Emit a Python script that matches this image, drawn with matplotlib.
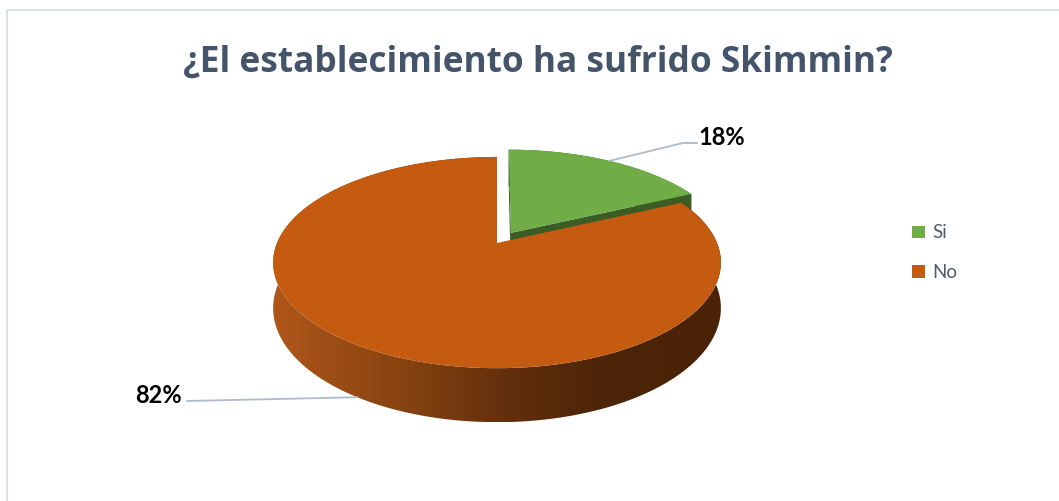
import numpy as np
import matplotlib.pyplot as plt
from matplotlib.patches import Polygon, Rectangle, Patch
from matplotlib.colors import LinearSegmentedColormap

titulo = '¿El establecimiento ha sufrido Skimmin?'
categorias = ['Si', 'No']
porcentajes = [18, 82]
colores_cara = ['#70AD47', '#C55A11']
color_lado_si = '#3A5C25'
explosion = [0.12, 0.0]

# geometria del pastel 3D en pixeles (y hacia abajo)
CX, CY = 497, 243
R, RK = 220, 102
PERSP = 5.4
DEPTH = 44
N = 240

plt.rcParams['font.family'] = ['Lato', 'DejaVu Sans']


def proj_uv(u, v, h=0.0):
    s = PERSP / (PERSP + v)
    return CX + R * u * s, CY - RK * v * s + DEPTH * h * s


def proj(theta, h=0.0, off=(0.0, 0.0)):
    return proj_uv(np.cos(theta) + off[0], np.sin(theta) + off[1], h)


def arco(t0, t1, h, off):
    th = np.linspace(t0, t1, N)
    x, y = proj(th, h, off)
    return np.column_stack([x, y])


fig = plt.figure(figsize=(10.59, 5.01), dpi=100)
ax = fig.add_axes([0, 0, 1, 1])
ax.set_xlim(0, 1059)
ax.set_ylim(501, 0)
ax.axis('off')

# marco del grafico
ax.add_patch(Rectangle((7, 10), 1070, 520, fill=False, edgecolor='#D9DEE7', lw=1.3))

# angulos de cada porcion, empezando arriba y en sentido horario
total = sum(porcentajes)
acum = np.cumsum([0] + porcentajes)
angulos = []
for i in range(len(porcentajes)):
    a_ini = np.radians(90 - acum[i + 1] / total * 360)
    a_fin = np.radians(90 - acum[i] / total * 360)
    angulos.append((a_ini, a_fin))

# porcion "Si" (separada del resto)
t0, t1 = angulos[0]
tm = (t0 + t1) / 2
off_si = (explosion[0] * np.cos(tm), explosion[0] * np.sin(tm))
centro_top = proj_uv(off_si[0], off_si[1], 0)
centro_bot = proj_uv(off_si[0], off_si[1], 1)

lado = np.vstack([arco(t0, t1, 0, off_si), arco(t1, t0, 1, off_si)])
ax.add_patch(Polygon(lado, closed=True, facecolor=color_lado_si, edgecolor='none', zorder=1))
for t in (t0, t1):
    ex_t = proj(t, 0, off_si)
    ex_b = proj(t, 1, off_si)
    cara = [centro_top, ex_t, ex_b, centro_bot]
    ax.add_patch(Polygon(cara, closed=True, facecolor=color_lado_si, edgecolor='none', zorder=1))
tapa = np.vstack([[centro_top], arco(t0, t1, 0, off_si)])
ax.add_patch(Polygon(tapa, closed=True, facecolor=colores_cara[0], edgecolor='none', zorder=2))

# porcion "No": lateral con degradado y tapa encima
n0, n1 = angulos[1]
lado_no = np.vstack([arco(n0, n1, 0, (0, 0)), arco(n1, n0, 1, (0, 0))])
lado_patch = Polygon(lado_no, closed=True, transform=ax.transData)
cmap_lado = LinearSegmentedColormap.from_list('lado_no', [
    (0.0, '#B0561A'), (0.33, '#80400F'), (0.55, '#5F2D0C'),
    (0.75, '#4C2407'), (1.0, '#4A2306')])
x0, x1 = lado_no[:, 0].min(), lado_no[:, 0].max()
y0, y1 = lado_no[:, 1].min(), lado_no[:, 1].max()
im = ax.imshow(np.linspace(0, 1, 256).reshape(1, -1), cmap=cmap_lado,
               extent=(x0, x1, y1, y0), aspect='auto', interpolation='bilinear', zorder=3)
im.set_clip_path(lado_patch)
tapa_no = np.vstack([[proj_uv(0, 0, 0)], arco(n0, n1, 0, (0, 0))])
ax.add_patch(Polygon(tapa_no, closed=True, facecolor=colores_cara[1], edgecolor='none', zorder=4))

# etiquetas de datos con lineas guia
color_guia = '#AEBBCC'
ax_si, ay_si = proj(tm, 0, off_si)
ax.plot([ax_si, 683, 697], [ay_si, 143, 143], color=color_guia, lw=1.3, zorder=5)
ax.text(698, 145, f'{porcentajes[0]}%', ha='left', va='baseline',
        fontsize=17, fontweight='bold', color='black', zorder=6)

nm = (n0 + n1) / 2
ax_no, ay_no = proj(nm, 1)
ax.plot([ax_no, 187], [ay_no, 401], color=color_guia, lw=1.3, zorder=5)
ax.text(182, 403, f'{porcentajes[1]}%', ha='right', va='baseline',
        fontsize=17, fontweight='bold', color='black', zorder=6)

# titulo, ajustado a un ancho de ~710 px
tit = ax.text(538, 72, titulo, ha='center', va='baseline', fontsize=24,
              fontweight='bold', color='#44546A', family=['Open Sans', 'DejaVu Sans'])
renderer = fig.canvas.get_renderer()
ancho = tit.get_window_extent(renderer).width
tit.set_fontsize(24 * 710 / ancho)

# leyenda
handles = [Patch(facecolor=c, edgecolor='none') for c in colores_cara]
leg = ax.legend(handles, categorias, loc='upper left', bbox_to_anchor=(903, 215),
                bbox_transform=ax.transData, frameon=False, fontsize=13.5,
                handlelength=0.65, handleheight=0.65, handletextpad=0.4,
                labelspacing=1.22, borderpad=0)
for txt in leg.get_texts():
    txt.set_color('#505B6B')

fig.savefig('out.png', dpi=100)
